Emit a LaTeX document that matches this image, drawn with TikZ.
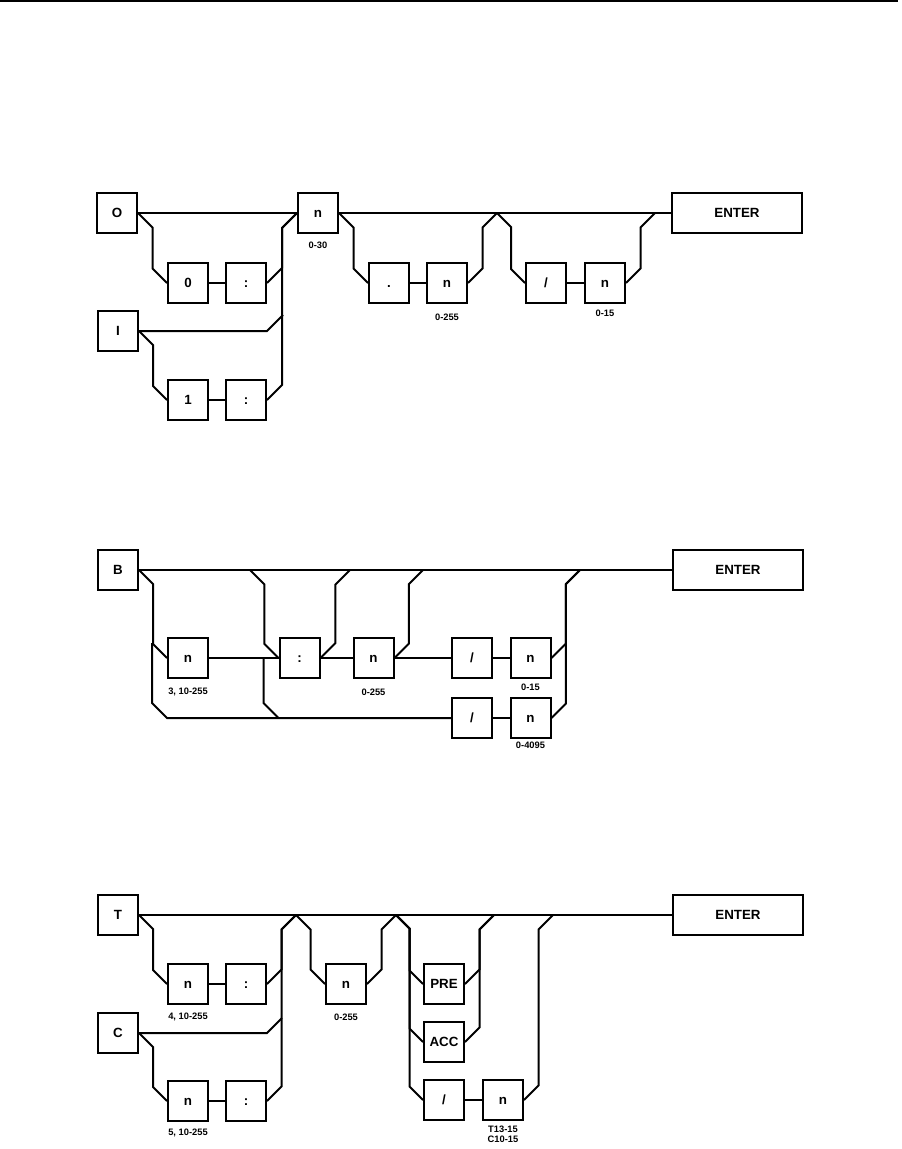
\documentclass[tikz,border=0pt]{standalone}
\usepackage{fontspec}
\setmainfont{Liberation Sans}
\usetikzlibrary{calc}
\newcommand{\sdrop}[2]{\draw[ln] let \p1=(#1), \p2=(#2), \n1={(\x2-\x1)/2} in (\p1) -- ++(\n1,-\n1) -- (\x2-\n1,\y2+\n1) -- (\p2);}
\newcommand{\srise}[2]{\draw[ln] let \p1=(#1), \p2=(#2), \n1={(\x2-\x1)/2} in (\p1) -- ++(\n1,\n1) -- (\x2-\n1,\y2-\n1) -- (\p2);}
\begin{document}
\begin{tikzpicture}[x=0.75pt,y=-0.75pt,
 bx/.style={draw, line width=1.5pt, minimum width=30pt, minimum height=30pt, inner sep=0pt, fill=white, text height=7.2pt, text depth=0pt, font=\bfseries\fontsize{10}{12}\selectfont},
 wbx/.style={bx, minimum width=97.5pt},
 lbl/.style={font=\bfseries\fontsize{7}{8}\selectfont, inner sep=0pt},
 ln/.style={line width=1.5pt, line join=miter}]
\useasboundingbox (0,0) rectangle (901,1149);
\fill (0,0) rectangle (898,2.5);

% ---------- top diagram ----------
\node[bx] (O) at (117,213) {O};
\node[bx] (n30) at (318,213) {n};
\node[bx] (z0) at (188,283) {0};
\node[bx] (c1) at (246,283) {:};
\node[bx] (I) at (118,331) {I};
\node[bx] (one) at (188,400) {1};
\node[bx] (c2) at (246,400) {:};
\node[bx] (dot) at (389,283) {.};
\node[bx] (n255) at (447,283) {n};
\node[bx] (sl1) at (546,283) {/};
\node[bx] (n15) at (605,283) {n};
\node[wbx] (E1) at (737,213) {ENTER};
\coordinate (j1) at (497,213);
\coordinate (j2) at (655,213);
\node[lbl] (l30) at (318,245) {0-30};
\node[lbl] (l255a) at (447,317) {0-255};
\node[lbl] (l15a) at (605,313) {0-15};

\draw[ln] (O.east) -- (n30.west);
\draw[ln] (n30.east) -- (E1.west);
\sdrop{O.east}{z0.west}
\draw[ln] (z0) -- (c1);
\srise{c1.east}{n30.west}
\draw[ln] (I.east) -- (I.east -| c1.east) -- ++(16,-16);
\sdrop{I.east}{one.west}
\draw[ln] (one) -- (c2);
\srise{c2.east}{n30.west}
\sdrop{n30.east}{dot.west}
\draw[ln] (dot) -- (n255);
\srise{n255.east}{j1}
\sdrop{j1}{sl1.west}
\draw[ln] (sl1) -- (n15);
\srise{n15.east}{j2}

% ---------- middle diagram ----------
\node[bx] (B) at (118,570) {B};
\node[bx] (nB) at (188,658) {n};
\node[bx] (c3) at (299.5,658) {:};
\node[bx] (nB2) at (373.5,658) {n};
\node[bx] (slU) at (472,658) {/};
\node[bx] (nU) at (530.5,658) {n};
\node[bx] (slL) at (472,718) {/};
\node[bx] (nL) at (530.5,718) {n};
\node[wbx] (E2) at (738,570) {ENTER};
\coordinate (k1) at (250,570);
\coordinate (k2) at (350,570);
\coordinate (k3) at (423,570);
\coordinate (k4) at (580,570);
\node[lbl] (lb1) at (188,692) {3, 10-255};
\node[lbl] (lb2) at (373.5,692) {0-255};
\node[lbl] (lb3) at (530.5,687) {0-15};
\node[lbl] (lb4) at (530.5,745) {0-4095};

\draw[ln] (B.east) -- (E2.west);
\sdrop{B.east}{nB.west}
\draw[ln] ($(nB.west)+(-15,-15)$) -- ($(nB.west |- slL.west)+(-15,-15)$) -- (nB.west |- slL.west) -- (slL.west);
\draw[ln] (nB) -- (c3);
\sdrop{k1}{c3.west}
\draw[ln] ($(c3.west)+(-15,0)$) -- ($(c3.west |- slL.west)+(-15,-15)$) -- (c3.west |- slL.west);
\draw[ln] (c3) -- (nB2);
\srise{c3.east}{k2}
\draw[ln] (nB2) -- (slU);
\srise{nB2.east}{k3}
\draw[ln] (slU) -- (nU);
\srise{nU.east}{k4}
\draw[ln] (slL) -- (nL);
\srise{nL.east}{k4}

% ---------- bottom diagram ----------
\node[bx] (T) at (118,915) {T};
\node[bx] (nT) at (188,984) {n};
\node[bx] (cT) at (246,984) {:};
\node[bx] (C) at (118,1033) {C};
\node[bx] (nC) at (188,1101) {n};
\node[bx] (cC) at (246,1101) {:};
\node[bx] (n3) at (346,984) {n};
\node[bx] (PRE) at (444,984) {PRE};
\node[bx] (ACC) at (444,1042) {ACC};
\node[bx] (sl3) at (444,1100) {/};
\node[bx] (n4) at (503,1100) {n};
\node[wbx] (E3) at (738,915) {ENTER};
\coordinate (j3) at (296,915);
\coordinate (j4) at (396,915);
\coordinate (j5) at (494,915);
\coordinate (j6) at (553,915);
\node[lbl] (lc1) at (188,1017) {4, 10-255};
\node[lbl] (lc2) at (188,1133) {5, 10-255};
\node[lbl] (lc3) at (346,1017) {0-255};
\node[lbl] (lc4) at (503,1129) {T13-15};
\node[lbl] (lc5) at (503,1139) {C10-15};

\draw[ln] (T.east) -- (E3.west);
\sdrop{T.east}{nT.west}
\draw[ln] (nT) -- (cT);
\srise{cT.east}{j3}
\draw[ln] (C.east) -- (C.east -| cT.east) -- ++(15,-15);
\sdrop{C.east}{nC.west}
\draw[ln] (nC) -- (cC);
\srise{cC.east}{j3}
\sdrop{j3}{n3.west}
\srise{n3.east}{j4}
\sdrop{j4}{sl3.west}
\sdrop{j4}{PRE.west}
\sdrop{j4}{ACC.west}
\srise{PRE.east}{j5}
\srise{ACC.east}{j5}
\draw[ln] (sl3) -- (n4);
\srise{n4.east}{j6}
\end{tikzpicture}
\end{document}
